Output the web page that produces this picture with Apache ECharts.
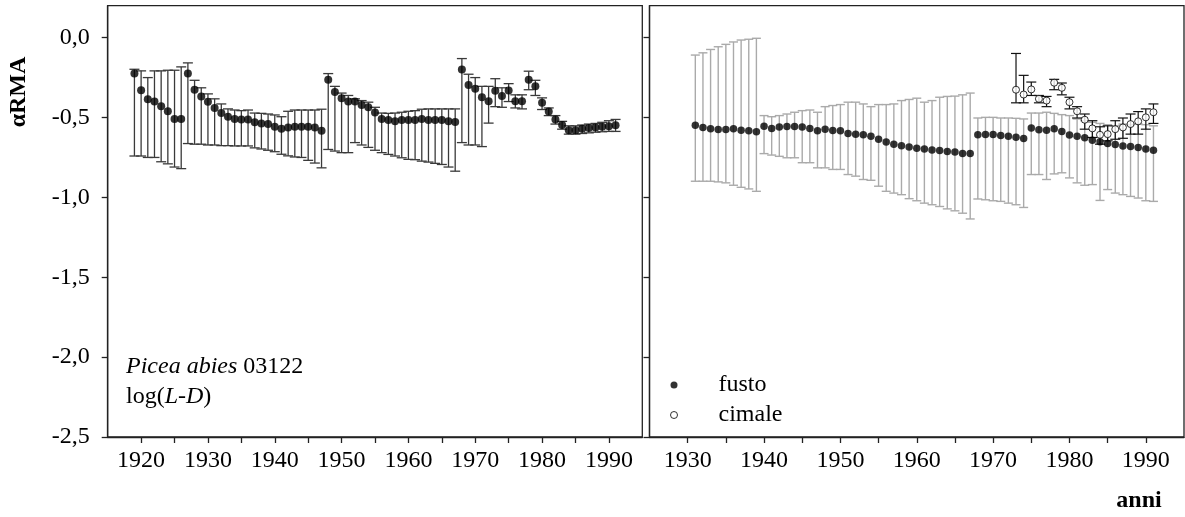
<!DOCTYPE html>
<html>
<head>
<meta charset="utf-8">
<script src="https://cdn.jsdelivr.net/npm/echarts@6/dist/echarts.min.js"></script>
<style>
  html, body { margin: 0; padding: 0; background: #fff; }
  #chart { width: 1185px; height: 517px; }
</style>
</head>
<body>
<div id="chart"></div>
<script>
// Left panel: single stem series, estimate with confidence limits
const leftYears = [1919,1920,1921,1922,1923,1924,1925,1926,1927,1928,1929,1930,1931,1932,1933,1934,1935,1936,1937,1938,1939,1940,1941,1942,1943,1944,1945,1946,1947,1948,1949,1950,1951,1952,1953,1954,1955,1956,1957,1958,1959,1960,1961,1962,1963,1964,1965,1966,1967,1968,1969,1970,1971,1972,1973,1974,1975,1976,1977,1978,1979,1980,1981,1982,1983,1984,1985,1986,1987,1988,1989,1990,1991];
const leftValues = [-0.225,-0.33,-0.385,-0.40,-0.43,-0.46,-0.51,-0.51,-0.225,-0.326,-0.368,-0.402,-0.44,-0.472,-0.495,-0.51,-0.512,-0.512,-0.53,-0.537,-0.541,-0.558,-0.57,-0.562,-0.558,-0.558,-0.558,-0.562,-0.583,-0.263,-0.341,-0.379,-0.40,-0.40,-0.421,-0.436,-0.469,-0.509,-0.516,-0.524,-0.516,-0.516,-0.516,-0.509,-0.516,-0.516,-0.516,-0.524,-0.528,-0.20,-0.297,-0.32,-0.373,-0.398,-0.333,-0.366,-0.331,-0.398,-0.398,-0.263,-0.305,-0.408,-0.463,-0.512,-0.547,-0.579,-0.579,-0.571,-0.566,-0.562,-0.558,-0.554,-0.549];
const leftHigh = [-0.198,-0.208,-0.25,-0.208,-0.208,-0.204,-0.204,-0.183,-0.158,-0.267,-0.314,-0.352,-0.383,-0.415,-0.446,-0.453,-0.457,-0.453,-0.472,-0.474,-0.478,-0.484,-0.495,-0.461,-0.453,-0.453,-0.453,-0.453,-0.448,-0.225,-0.305,-0.347,-0.362,-0.383,-0.394,-0.404,-0.436,-0.472,-0.474,-0.472,-0.467,-0.461,-0.457,-0.448,-0.446,-0.446,-0.446,-0.446,-0.446,-0.131,-0.229,-0.25,-0.305,-0.305,-0.257,-0.314,-0.288,-0.358,-0.358,-0.21,-0.267,-0.377,-0.44,-0.488,-0.524,-0.552,-0.552,-0.547,-0.541,-0.537,-0.530,-0.520,-0.512];
const leftLow = [-0.741,-0.741,-0.75,-0.75,-0.777,-0.79,-0.81,-0.82,-0.663,-0.667,-0.667,-0.672,-0.672,-0.676,-0.676,-0.678,-0.678,-0.678,-0.69,-0.697,-0.705,-0.714,-0.73,-0.74,-0.747,-0.75,-0.768,-0.785,-0.815,-0.70,-0.71,-0.72,-0.72,-0.657,-0.672,-0.687,-0.705,-0.72,-0.731,-0.741,-0.752,-0.762,-0.764,-0.773,-0.779,-0.787,-0.794,-0.81,-0.836,-0.657,-0.672,-0.672,-0.682,-0.535,-0.432,-0.436,-0.40,-0.44,-0.446,-0.326,-0.362,-0.45,-0.488,-0.541,-0.573,-0.604,-0.604,-0.60,-0.596,-0.592,-0.589,-0.587,-0.587];

// Right panel: stem (fusto) and top (cimale)
const fustoYears = [1931,1932,1933,1934,1935,1936,1937,1938,1939,1940,1941,1942,1943,1944,1945,1946,1947,1948,1949,1950,1951,1952,1953,1954,1955,1956,1957,1958,1959,1960,1961,1962,1963,1964,1965,1966,1967,1968,1969,1970,1971,1972,1973,1974,1975,1976,1977,1978,1979,1980,1981,1982,1983,1984,1985,1986,1987,1988,1989,1990,1991];
const fustoValues = [-0.549,-0.562,-0.571,-0.575,-0.575,-0.571,-0.579,-0.583,-0.589,-0.554,-0.568,-0.56,-0.556,-0.556,-0.56,-0.568,-0.583,-0.573,-0.581,-0.583,-0.60,-0.604,-0.608,-0.617,-0.636,-0.653,-0.667,-0.676,-0.684,-0.693,-0.697,-0.703,-0.707,-0.712,-0.716,-0.726,-0.726,-0.608,-0.606,-0.606,-0.613,-0.617,-0.623,-0.632,-0.566,-0.577,-0.579,-0.571,-0.587,-0.61,-0.617,-0.627,-0.642,-0.651,-0.663,-0.669,-0.678,-0.682,-0.688,-0.697,-0.705];
const fustoHigh = [-0.109,-0.095,-0.074,-0.057,-0.042,-0.027,-0.015,-0.01,-0.004,-0.488,-0.495,-0.488,-0.478,-0.467,-0.457,-0.453,-0.467,-0.432,-0.425,-0.419,-0.404,-0.404,-0.415,-0.432,-0.419,-0.419,-0.415,-0.394,-0.387,-0.379,-0.404,-0.394,-0.373,-0.368,-0.366,-0.358,-0.347,-0.503,-0.499,-0.499,-0.503,-0.503,-0.505,-0.509,-0.472,-0.472,-0.467,-0.474,-0.482,-0.488,-0.509,-0.52,-0.53,-0.537,-0.545,-0.552,-0.541,-0.545,-0.541,-0.545,-0.552];
const fustoLow = [-0.899,-0.899,-0.899,-0.903,-0.909,-0.924,-0.937,-0.947,-0.962,-0.726,-0.735,-0.743,-0.752,-0.752,-0.783,-0.783,-0.815,-0.815,-0.825,-0.825,-0.857,-0.867,-0.888,-0.893,-0.93,-0.962,-0.973,-0.983,-1.008,-1.021,-1.036,-1.046,-1.057,-1.072,-1.084,-1.099,-1.135,-1.01,-1.015,-1.021,-1.025,-1.036,-1.046,-1.063,-0.857,-0.857,-0.888,-0.853,-0.846,-0.878,-0.909,-0.924,-0.92,-1.019,-0.951,-0.973,-0.983,-0.994,-1.004,-1.021,-1.025];

const cimaleYears = [1973,1974,1975,1976,1977,1978,1979,1980,1981,1982,1983,1984,1985,1986,1987,1988,1989,1990,1991];
const cimaleValues = [-0.326,-0.356,-0.324,-0.383,-0.394,-0.282,-0.314,-0.404,-0.461,-0.514,-0.568,-0.608,-0.604,-0.573,-0.562,-0.541,-0.524,-0.499,-0.467];
const cimaleHigh = [-0.099,-0.236,-0.278,-0.362,-0.368,-0.261,-0.284,-0.373,-0.432,-0.478,-0.52,-0.558,-0.552,-0.52,-0.503,-0.478,-0.463,-0.446,-0.415];
const cimaleLow = [-0.408,-0.408,-0.362,-0.408,-0.432,-0.326,-0.358,-0.446,-0.503,-0.573,-0.625,-0.667,-0.646,-0.636,-0.63,-0.604,-0.604,-0.573,-0.537];

// Axis ticks and labels
const yTicks = [-2.5, -2.0, -1.5, -1.0, -0.5, 0.0];
const xTicksLeft = [1920,1925,1930,1935,1940,1945,1950,1955,1960,1965,1970,1975,1980,1985,1990];
const xLabelsLeft = [1920,1930,1940,1950,1960,1970,1980,1990];
const xTicksRight = [1930,1935,1940,1945,1950,1955,1960,1965,1970,1975,1980,1985,1990];
const xLabelsRight = [1930,1940,1950,1960,1970,1980,1990];

const FONT = '"Times New Roman", "Liberation Serif", serif';

function zip(xs, ys) { return xs.map((x, i) => [x, ys[i]]); }
function zip3(xs, lo, hi) { return xs.map((x, i) => [x, lo[i], hi[i]]); }

function errorBars(capHalf, color, width) {
  return function (params, api) {
    const x = api.value(0);
    const pLo = api.coord([x, api.value(1)]);
    const pHi = api.coord([x, api.value(2)]);
    const st = { stroke: color, lineWidth: width };
    return {
      type: 'group',
      children: [
        { type: 'line', shape: { x1: pLo[0], y1: pLo[1], x2: pHi[0], y2: pHi[1] }, style: st },
        { type: 'line', shape: { x1: pLo[0] - capHalf, y1: pLo[1], x2: pLo[0] + capHalf, y2: pLo[1] }, style: st },
        { type: 'line', shape: { x1: pHi[0] - capHalf, y1: pHi[1], x2: pHi[0] + capHalf, y2: pHi[1] }, style: st }
      ]
    };
  };
}

const fmtY = v => v.toFixed(1).replace('.', ',');

function xAxisCfg(gridIndex, min, max, ticks, labels) {
  return {
    type: 'value', gridIndex, min, max,
    axisLine: { show: true, onZero: false, lineStyle: { color: '#222', width: 1.3 } },
    axisTick: { show: true, customValues: ticks, length: 6, lineStyle: { color: '#222', width: 1.3 } },
    axisLabel: { show: true, customValues: labels, margin: 12, fontFamily: FONT, fontSize: 24, color: '#000',
      formatter: v => String(v) },
    splitLine: { show: false }
  };
}
function yAxisCfg(gridIndex, showLabels) {
  return {
    type: 'value', gridIndex, min: -2.5, max: 0.2,
    axisLine: { show: true, onZero: false, lineStyle: { color: '#222', width: 1.3 } },
    axisTick: { show: true, customValues: yTicks, length: 6, lineStyle: { color: '#222', width: 1.3 } },
    axisLabel: { show: showLabels, customValues: yTicks, margin: 18, fontFamily: FONT, fontSize: 24, color: '#000',
      formatter: fmtY },
    splitLine: { show: false }
  };
}

const chart = echarts.init(document.getElementById('chart'), null, { renderer: 'canvas' });

chart.setOption({
  animation: false,
  backgroundColor: '#fff',
  grid: [
    { left: 107.7, top: 5.7, width: 534.6, height: 431.3, show: true, borderColor: '#222', borderWidth: 1.3, backgroundColor: 'transparent' },
    { left: 649.5, top: 5.7, width: 534.5, height: 431.3, show: true, borderColor: '#222', borderWidth: 1.3, backgroundColor: 'transparent' }
  ],
  xAxis: [
    xAxisCfg(0, 1915, 1995, xTicksLeft, xLabelsLeft),
    xAxisCfg(1, 1925, 1995, xTicksRight, xLabelsRight)
  ],
  yAxis: [yAxisCfg(0, true), yAxisCfg(1, false)],
  legend: {
    left: 665, top: 368, orient: 'vertical', itemGap: 6,
    itemWidth: 7, itemHeight: 7,
    textStyle: { fontFamily: FONT, fontSize: 24, color: '#000', padding: [0, 0, 0, 36] },
    data: [
      { name: 'fusto', icon: 'circle', itemStyle: { color: '#000', borderWidth: 0 } },
      { name: 'cimale', icon: 'circle', itemStyle: { color: '#fff', borderColor: '#000', borderWidth: 1 } }
    ],
    selectedMode: false
  },
  graphic: [
    {
      type: 'text', left: 126, top: 352, silent: true,
      style: {
        text: '{i|Picea abies} 03122\nlog({i|L}-{i|D})',
        fontFamily: FONT, fontSize: 24, fill: '#000', lineHeight: 30,
        rich: { i: { fontStyle: 'italic', fontFamily: FONT, fontSize: 24, fill: '#000' } }
      }
    },
    {
      type: 'text', x: 31, y: 92, rotation: Math.PI / 2, silent: true,
      style: { text: 'αRMA', fontFamily: FONT, fontWeight: 'bold', fontSize: 24, fill: '#000', align: 'center', verticalAlign: 'bottom' }
    },
    {
      type: 'text', x: 1139, y: 513, silent: true,
      style: { text: 'anni', fontFamily: FONT, fontWeight: 'bold', fontSize: 24, fill: '#000', align: 'center', verticalAlign: 'bottom' }
    }
  ],
  series: [
    { type: 'custom', name: 'leftErr', xAxisIndex: 0, yAxisIndex: 0, renderItem: errorBars(5, '#3a3a3a', 1.3),
      data: zip3(leftYears, leftLow, leftHigh), z: 1, silent: true },
    { type: 'scatter', name: 'alpha', xAxisIndex: 0, yAxisIndex: 0, symbol: 'circle', symbolSize: 8,
      itemStyle: { color: '#000' }, data: zip(leftYears, leftValues), z: 3, silent: true },
    { type: 'custom', name: 'fustoErr', xAxisIndex: 1, yAxisIndex: 1, renderItem: errorBars(4.5, '#aaaaaa', 1.4),
      data: zip3(fustoYears, fustoLow, fustoHigh), z: 1, silent: true },
    { type: 'custom', name: 'cimaleErr', xAxisIndex: 1, yAxisIndex: 1, renderItem: errorBars(5, '#111111', 1.2),
      data: zip3(cimaleYears, cimaleLow, cimaleHigh), z: 2, silent: true },
    { type: 'scatter', name: 'fusto', xAxisIndex: 1, yAxisIndex: 1, symbol: 'circle', symbolSize: 7.5,
      itemStyle: { color: '#000' }, data: zip(fustoYears, fustoValues), z: 3, silent: true },
    { type: 'scatter', name: 'cimale', xAxisIndex: 1, yAxisIndex: 1, symbol: 'circle', symbolSize: 7,
      itemStyle: { color: '#fff', borderColor: '#000', borderWidth: 1 }, data: zip(cimaleYears, cimaleValues), z: 4, silent: true }
  ]
});
</script>
</body>
</html>
